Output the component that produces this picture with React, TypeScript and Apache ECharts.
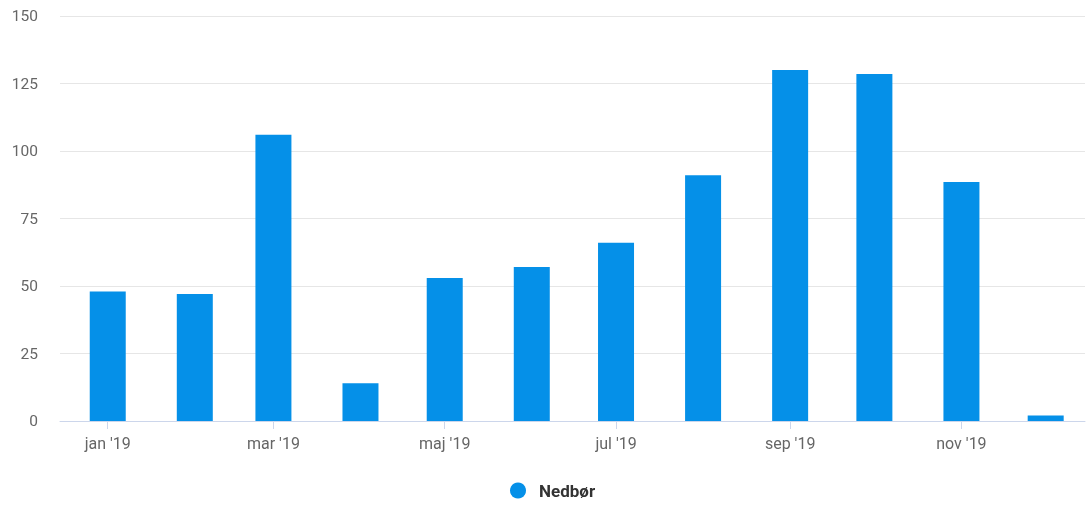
import React, { useEffect, useRef } from "react";
import * as echarts from "echarts";

const monthNames = ["jan", "feb", "mar", "apr", "maj", "jun", "jul", "aug", "sep", "okt", "nov", "dec"];
const year = 2019;
const precipitation = [48, 47, 106, 14, 53, 57, 66, 91, 130, 128.5, 88.5, 2];
const labelMonths = [0, 2, 4, 6, 8, 10];
const seriesName = "Nedbør";

export default function App() {
  const ref = useRef<HTMLDivElement>(null);
  useEffect(() => {
    if (!ref.current) return;
    const chart = echarts.init(ref.current, undefined, { renderer: "svg" });
    const data = precipitation.map((v, i) => [Date.UTC(year, i, 1), v]);
    const labelValues = labelMonths.map((m) => Date.UTC(year, m, 1));
    chart.setOption({
      animation: false,
      textStyle: { fontFamily: "Roboto, sans-serif" },
      grid: { left: 60, right: 1, top: 16, bottom: 84, containLabel: false },
      legend: {
        top: 477,
        left: 505,
        icon: "circle",
        itemWidth: 16,
        itemHeight: 16,
        itemGap: 10,
        textStyle: { fontSize: 17, fontWeight: "bold", color: "#333", padding: [0, 0, 0, 8] },
        data: [seriesName],
      },
      xAxis: {
        type: "value",
        min: Date.UTC(year - 1, 11, 15),
        max: Date.UTC(year, 11, 15),
        scale: true,
        axisLine: { show: true, onZero: false, lineStyle: { color: "#ccd6eb", width: 1 } },
        axisTick: { show: true, customValues: labelValues, length: 8, lineStyle: { color: "#ccd6eb" } },
        splitLine: { show: false },
        axisLabel: {
          customValues: labelValues,
          color: "#666",
          fontSize: 16,
          margin: 14,
          formatter: (val: number) => {
            const d = new Date(val);
            return monthNames[d.getUTCMonth()] + " '" + String(d.getUTCFullYear()).slice(2);
          },
        },
      },
      yAxis: {
        type: "value",
        min: 0,
        max: 150,
        interval: 25,
        axisLine: { show: false },
        axisTick: { show: false },
        axisLabel: {
          color: "#666",
          fontSize: 15.5,
          margin: 22,
        },
        splitLine: { lineStyle: { color: "#e6e6e6", width: 1 } },
      },
      series: [
        {
          name: seriesName,
          type: "bar",
          data,
          barWidth: 36,
          itemStyle: { color: "#0590e8" },
        },
      ],
    });
    return () => chart.dispose();
  }, []);
  return <div ref={ref} style={{ position: "fixed", left: 0, top: 0, width: 1086, height: 505 }} />;
}
